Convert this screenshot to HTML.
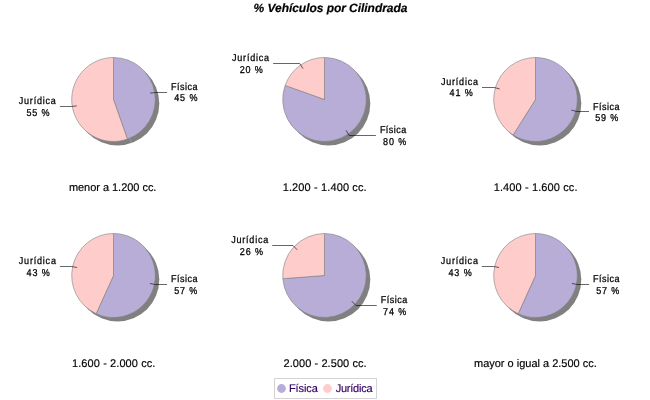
<!DOCTYPE html>
<html><head><meta charset="utf-8"><title>% Vehículos por Cilindrada</title>
<style>
html,body{margin:0;padding:0;background:#fff;}
svg{display:block;}
text{font-family:"Liberation Sans",Arial,sans-serif;fill:#000;text-rendering:geometricPrecision;}
.lb{font-size:10px;stroke:#000;stroke-width:0.27px;}
.st{font-size:11px;stroke:#000;stroke-width:0.15px;}
.tt{font-size:12px;font-weight:bold;font-style:italic;stroke:#000;stroke-width:0.2px;}
.lg{font-size:11px;fill:#330066;stroke:#330066;stroke-width:0.15px;}
</style></head><body>
<svg width="650" height="400" viewBox="0 0 650 400" style="will-change:transform">
<rect width="650" height="400" fill="#fff"/>
<ellipse cx="117.5" cy="103.5" rx="41.8" ry="42.0" fill="#808080"/>
<line x1="117.50" y1="103.50" x2="131.41" y2="143.11" stroke="#a8a8a8" stroke-width="0.5"/>
<path d="M113.50 99.50L113.50 57.50A41.8 42.0 0 0 1 127.41 139.11Z" fill="#b8add7" stroke="#808080" stroke-width="0.6" stroke-linejoin="round"/>
<path d="M113.50 99.50L127.41 139.11A41.8 42.0 0 1 1 113.50 57.50Z" fill="#ffcccc" stroke="#808080" stroke-width="0.6" stroke-linejoin="round"/>
<polyline points="150.26,93.12 155.78,92.50 167.12,92.50" fill="none" stroke="#000" stroke-width="0.6"/><text transform="translate(171.12,90) scale(0.9,1)" textLength="29.33" class="lb">Física</text><text transform="translate(174.22,101) scale(0.9,1)" textLength="25.78" class="lb">45 %</text>
<polyline points="76.74,105.88 71.22,106.50 59.88,106.50" fill="none" stroke="#000" stroke-width="0.6"/><text transform="translate(18.78,104) scale(0.9,1)" textLength="41.22" class="lb">Jurídica</text><text transform="translate(26.43,116) scale(0.9,1)" textLength="25.78" class="lb">55 %</text>
<text x="68.90" y="191" textLength="87.50" class="st">menor a 1.200 cc.</text>
<ellipse cx="328.5" cy="103.5" rx="41.8" ry="42.0" fill="#808080"/>
<line x1="328.50" y1="103.50" x2="289.13" y2="89.40" stroke="#a8a8a8" stroke-width="0.5"/>
<path d="M324.50 99.50L324.50 57.50A41.8 42.0 0 1 1 285.13 85.40Z" fill="#b8add7" stroke="#808080" stroke-width="0.6" stroke-linejoin="round"/>
<path d="M324.50 99.50L285.13 85.40A41.8 42.0 0 0 1 324.50 57.50Z" fill="#ffcccc" stroke="#808080" stroke-width="0.6" stroke-linejoin="round"/>
<polyline points="346.00,130.39 349.22,135.50 375.91,135.50" fill="none" stroke="#000" stroke-width="0.6"/><text transform="translate(379.91,133) scale(0.9,1)" textLength="29.33" class="lb">Física</text><text transform="translate(383.01,145) scale(0.9,1)" textLength="25.78" class="lb">80 %</text>
<polyline points="303.00,68.61 299.78,63.50 273.09,63.50" fill="none" stroke="#000" stroke-width="0.6"/><text transform="translate(231.99,61) scale(0.9,1)" textLength="41.22" class="lb">Jurídica</text><text transform="translate(239.64,73) scale(0.9,1)" textLength="25.78" class="lb">20 %</text>
<text x="282.70" y="191" textLength="83.90" class="st">1.200 - 1.400 cc.</text>
<ellipse cx="539.5" cy="103.5" rx="41.8" ry="42.0" fill="#808080"/>
<line x1="539.50" y1="103.50" x2="517.10" y2="138.96" stroke="#a8a8a8" stroke-width="0.5"/>
<path d="M535.50 99.50L535.50 57.50A41.8 42.0 0 1 1 513.10 134.96Z" fill="#b8add7" stroke="#808080" stroke-width="0.6" stroke-linejoin="round"/>
<path d="M535.50 99.50L513.10 134.96A41.8 42.0 0 0 1 535.50 57.50Z" fill="#ffcccc" stroke="#808080" stroke-width="0.6" stroke-linejoin="round"/>
<polyline points="571.32,110.05 576.70,111.50 588.99,111.50" fill="none" stroke="#000" stroke-width="0.6"/><text transform="translate(592.99,110) scale(0.9,1)" textLength="29.33" class="lb">Física</text><text transform="translate(595.19,121) scale(0.9,1)" textLength="25.78" class="lb">59 %</text>
<polyline points="499.68,88.95 494.30,87.50 482.01,87.50" fill="none" stroke="#000" stroke-width="0.6"/><text transform="translate(440.91,85) scale(0.9,1)" textLength="41.22" class="lb">Jurídica</text><text transform="translate(449.56,96) scale(0.9,1)" textLength="25.78" class="lb">41 %</text>
<text x="493.70" y="191" textLength="83.80" class="st">1.400 - 1.600 cc.</text>
<ellipse cx="117.5" cy="279.5" rx="41.8" ry="42.0" fill="#808080"/>
<line x1="117.50" y1="279.50" x2="100.18" y2="317.72" stroke="#a8a8a8" stroke-width="0.5"/>
<path d="M113.50 275.50L113.50 233.50A41.8 42.0 0 1 1 96.18 313.72Z" fill="#b8add7" stroke="#808080" stroke-width="0.6" stroke-linejoin="round"/>
<path d="M113.50 275.50L96.18 313.72A41.8 42.0 0 0 1 113.50 233.50Z" fill="#ffcccc" stroke="#808080" stroke-width="0.6" stroke-linejoin="round"/>
<polyline points="149.95,283.51 155.42,284.50 167.08,284.50" fill="none" stroke="#000" stroke-width="0.6"/><text transform="translate(171.08,282) scale(0.9,1)" textLength="29.33" class="lb">Física</text><text transform="translate(174.18,294) scale(0.9,1)" textLength="25.78" class="lb">57 %</text>
<polyline points="77.05,267.49 71.58,266.50 59.92,266.50" fill="none" stroke="#000" stroke-width="0.6"/><text transform="translate(18.82,264) scale(0.9,1)" textLength="41.22" class="lb">Jurídica</text><text transform="translate(26.57,276) scale(0.9,1)" textLength="25.78" class="lb">43 %</text>
<text x="72.00" y="367" textLength="83.40" class="st">1.600 - 2.000 cc.</text>
<ellipse cx="328.5" cy="279.5" rx="41.8" ry="42.0" fill="#808080"/>
<line x1="328.50" y1="279.50" x2="286.82" y2="282.66" stroke="#a8a8a8" stroke-width="0.5"/>
<path d="M324.50 275.50L324.50 233.50A41.8 42.0 0 1 1 282.82 278.66Z" fill="#b8add7" stroke="#808080" stroke-width="0.6" stroke-linejoin="round"/>
<path d="M324.50 275.50L282.82 278.66A41.8 42.0 0 0 1 324.50 233.50Z" fill="#ffcccc" stroke="#808080" stroke-width="0.6" stroke-linejoin="round"/>
<polyline points="351.85,301.20 355.96,305.50 376.76,305.50" fill="none" stroke="#000" stroke-width="0.6"/><text transform="translate(380.76,303) scale(0.9,1)" textLength="29.33" class="lb">Física</text><text transform="translate(383.06,315) scale(0.9,1)" textLength="25.78" class="lb">74 %</text>
<polyline points="297.15,249.80 293.04,245.50 272.24,245.50" fill="none" stroke="#000" stroke-width="0.6"/><text transform="translate(231.14,243) scale(0.9,1)" textLength="41.22" class="lb">Jurídica</text><text transform="translate(239.79,255) scale(0.9,1)" textLength="25.78" class="lb">26 %</text>
<text x="283.50" y="367" textLength="83.10" class="st">2.000 - 2.500 cc.</text>
<ellipse cx="539.5" cy="279.5" rx="41.8" ry="42.0" fill="#808080"/>
<line x1="539.50" y1="279.50" x2="522.18" y2="317.72" stroke="#a8a8a8" stroke-width="0.5"/>
<path d="M535.50 275.50L535.50 233.50A41.8 42.0 0 1 1 518.18 313.72Z" fill="#b8add7" stroke="#808080" stroke-width="0.6" stroke-linejoin="round"/>
<path d="M535.50 275.50L518.18 313.72A41.8 42.0 0 0 1 535.50 233.50Z" fill="#ffcccc" stroke="#808080" stroke-width="0.6" stroke-linejoin="round"/>
<polyline points="571.95,283.51 577.42,284.50 589.08,284.50" fill="none" stroke="#000" stroke-width="0.6"/><text transform="translate(593.08,282) scale(0.9,1)" textLength="29.33" class="lb">Física</text><text transform="translate(596.18,294) scale(0.9,1)" textLength="25.78" class="lb">57 %</text>
<polyline points="499.05,267.49 493.58,266.50 481.92,266.50" fill="none" stroke="#000" stroke-width="0.6"/><text transform="translate(440.82,264) scale(0.9,1)" textLength="41.22" class="lb">Jurídica</text><text transform="translate(448.47,276) scale(0.9,1)" textLength="25.78" class="lb">43 %</text>
<text x="474.00" y="367" textLength="122.70" class="st">mayor o igual a 2.500 cc.</text>
<text x="253.6" y="12" textLength="153.8" class="tt">% Vehículos por Cilindrada</text>
<rect x="274.5" y="378.5" width="102" height="20" fill="#fff" stroke="#d4d4d4" stroke-width="1"/>
<circle cx="281.5" cy="388.5" r="4.4" fill="#b8add7"/>
<circle cx="327.5" cy="388.5" r="4.4" fill="#ffcccc"/>
<text x="288.9" y="392" textLength="29.0" class="lg">Física</text>
<text x="335.7" y="392" textLength="36.9" class="lg">Jurídica</text>
</svg>
</body></html>
